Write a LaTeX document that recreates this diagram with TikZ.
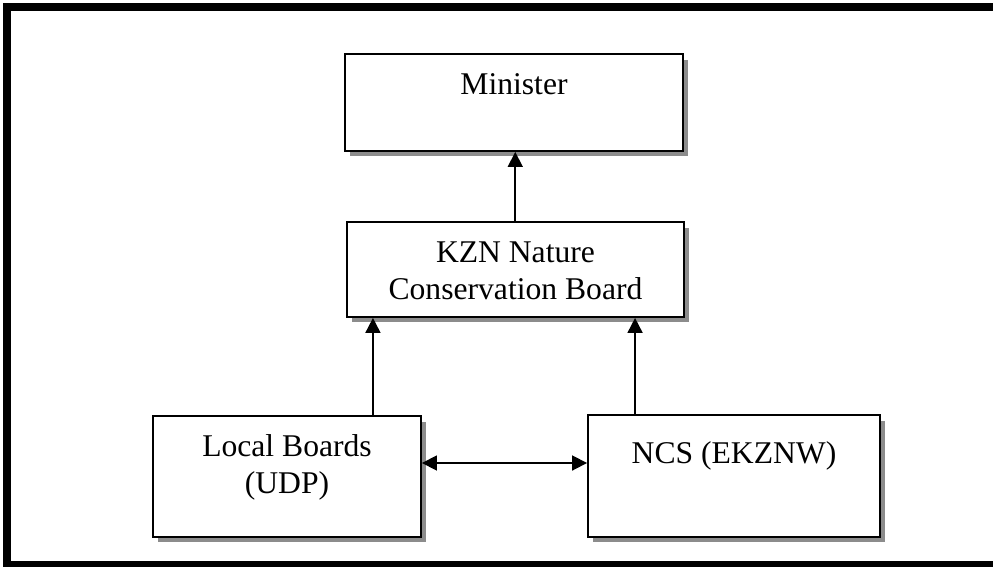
\documentclass[tikz,border=0pt]{standalone}
\usepackage{fontspec}
\setmainfont{Liberation Serif}
\usetikzlibrary{positioning,shadows,arrows.meta}

\tikzset{
  box/.style={draw, line width=1.1pt, fill=white, inner sep=0pt,
    drop shadow={shadow xshift=0.1cm, shadow yshift=-0.11cm, fill=black!45, opacity=1}},
  lbl/.style={font=\fontsize{18}{21}\selectfont, align=center, inner sep=0pt},
  arr/.style={line width=1pt, -{Triangle[length=0.3cm, width=0.3cm]}},
}

\begin{document}
\begin{tikzpicture}[x=0.02cm, y=-0.02cm]
	\useasboundingbox (0,0) rectangle (993,567);

	% Frame:
	\draw[line width=0.16cm] (7,7) rectangle (1000,565);

	% Boxes:
	\node[box, minimum width=6.76cm, minimum height=1.94cm] (minister) at (514, 102.5) {};
	\node[box, minimum width=6.74cm, minimum height=1.9cm] (kzn) at (515.25, 269.5) {};
	\node[box, minimum width=5.36cm, minimum height=2.42cm] (local) at (287, 476.5) {};
	\node[box, minimum width=5.84cm, minimum height=2.44cm] (ncs) at (734, 476) {};

	% Labels (base = last line)
	\node[lbl, anchor=base] (ministertxt) at (514, 95) {Minister};
	\node[lbl, anchor=base] (kzntxt) at (515.5, 299) {KZN Nature\\Conservation Board};
	\node[lbl, anchor=base] (localtxt) at (287, 493) {Local Boards\\(UDP)};
	\node[lbl, anchor=base] (ncstxt) at (734, 463) {NCS (EKZNW)};

	% Lines:
	\draw[arr] (kzn.north) -- (kzn.north |- minister.south);
	\draw[arr] ([xshift=-0.98cm]local.north east) -- ([xshift=-0.98cm]local.north east |- kzn.south);
	\draw[arr] ([xshift=0.96cm]ncs.north west) -- ([xshift=0.96cm]ncs.north west |- kzn.south);
	\draw[arr, {Triangle[length=0.3cm, width=0.3cm]}-{Triangle[length=0.3cm, width=0.3cm]}] ([yshift=0.27cm]local.east) -- ([yshift=0.27cm]local.east -| ncs.west);

\end{tikzpicture}
\end{document}
